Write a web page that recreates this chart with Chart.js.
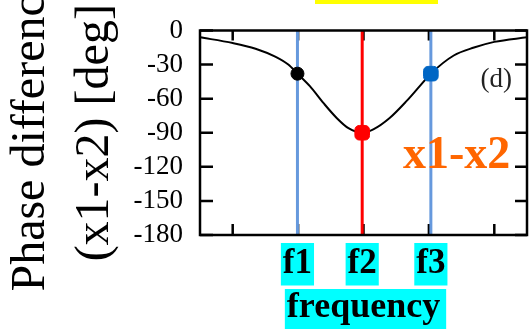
<html>
<head>
<script src="https://cdn.jsdelivr.net/npm/chart.js"></script>
<style>
    body { margin: 0; background: #fff; }
    #wrap { width: 530px; height: 329px; }
</style>
</head>
<body>
<div id="wrap"><canvas id="phaseChart"></canvas></div>
<script>
    // phase difference curve
    const FREQ_X = [0, 0.5, 0.85, 1.15, 1.35, 1.49, 1.68, 1.89, 2.09, 2.27, 2.48, 2.65, 2.9, 3.16, 3.36, 3.53, 3.88, 4.19, 4.5, 5]
    const PHASE_DEG = [-6, -11, -16, -23, -30, -38, -49, -64, -77, -86, -90, -87, -77, -62, -49, -38, -22, -15, -10, -6]

    // marked frequencies
    const F_LABELS = ['f1', 'f2', 'f3']
    const F_VALUES = [1.49, 2.48, 3.53]
    const F_PHASE = [-38, -90, -38]

    const X_TICK_MARKS = [0.5, 1.5, 2.5, 3.5, 4.5]
    const Y_MIN = -180
    const Y_MAX = 0
    const Y_STEP = 30

    const SERIF = "'Liberation Serif', 'Times New Roman', serif"
    const BLUE_LINE = '#6699dd'

    function vline(x, color) {
        return {
            type: 'line',
            data: [{ x, y: Y_MAX }, { x, y: Y_MIN }],
            borderColor: color,
            borderWidth: 3,
            pointRadius: 0,
            order: 3,
        }
    }

    function marker(idx, style, color, radius) {
        return {
            type: 'scatter',
            data: [{ x: F_VALUES[idx], y: F_PHASE[idx] }],
            pointStyle: style,
            pointRadius: radius,
            backgroundColor: color,
            borderColor: color,
            borderWidth: 1,
            order: 0,
        }
    }

    const decor = {
        id: 'decor',
        beforeDraw(chart) {
            const { ctx, scales: { x } } = chart
            ctx.save()
            // bottom of the cropped panel title highlight
            ctx.fillStyle = '#ffff00'
            ctx.fillRect(315, 0, 123, 4)
            // cyan box behind the x title
            ctx.font = `bold 36px ${SERIF}`
            const w = ctx.measureText(x.options.title.text).width + 8
            const cx = (x.left + x.right) / 2 + 2
            ctx.fillStyle = '#00ffff'
            ctx.fillRect(cx - w / 2, 289, w, 45)
            ctx.restore()
        },
        beforeDatasetsDraw(chart) {
            const { ctx, chartArea: a, scales: { x, y } } = chart
            ctx.save()
            ctx.strokeStyle = '#000'
            ctx.lineWidth = 2.5
            ctx.beginPath()
            y.ticks.forEach((t) => {
                const py = y.getPixelForValue(t.value)
                ctx.moveTo(a.left, py); ctx.lineTo(a.left + 13, py)
                ctx.moveTo(a.right, py); ctx.lineTo(a.right - 12, py)
            })
            X_TICK_MARKS.forEach((v) => {
                const px = x.getPixelForValue(v)
                ctx.moveTo(px, a.top); ctx.lineTo(px, a.top + 10)
                ctx.moveTo(px, a.bottom); ctx.lineTo(px, a.bottom - 11)
            })
            ctx.stroke()
            ctx.restore()
        },
        afterDatasetsDraw(chart) {
            const { ctx, chartArea: a } = chart
            ctx.save()
            ctx.strokeStyle = '#000'
            ctx.lineWidth = 2.5
            ctx.strokeRect(a.left, a.top, a.right - a.left, a.bottom - a.top)

            ctx.textAlign = 'right'
            ctx.textBaseline = 'alphabetic'
            ctx.fillStyle = '#222'
            ctx.font = `27px ${SERIF}`
            ctx.fillText('(d)', a.right - 15, a.top + 56)

            ctx.textAlign = 'left'
            ctx.fillStyle = '#ff6600'
            ctx.font = `bold 46px ${SERIF}`
            ctx.fillText('x1-x2', a.left + 203, a.top + 137)
            ctx.restore()
        },
    }

    new Chart(document.getElementById('phaseChart'), {
        type: 'line',
        data: {
            datasets: [
                marker(0, 'circle', '#000', 6.5),
                marker(1, 'rectRounded', '#ff0000', 8.5),
                marker(2, 'rectRounded', '#0066c4', 8.5),
                {
                    type: 'line',
                    data: FREQ_X.map((fx, i) => ({ x: fx, y: PHASE_DEG[i] })),
                    borderColor: '#000',
                    borderWidth: 2,
                    pointRadius: 0,
                    cubicInterpolationMode: 'monotone',
                    order: 1,
                },
                vline(F_VALUES[0], BLUE_LINE),
                vline(F_VALUES[1], '#ff0000'),
                vline(F_VALUES[2], BLUE_LINE),
            ],
        },
        options: {
            responsive: true,
            maintainAspectRatio: false,
            animation: false,
            layout: { autoPadding: false, padding: { top: 28, right: 3, left: 0, bottom: 0 } },
            plugins: { legend: false, tooltip: { enabled: false } },
            scales: {
                x: {
                    type: 'linear',
                    min: 0,
                    max: 5,
                    grid: { display: false, drawTicks: false },
                    border: { display: false },
                    afterBuildTicks: (scale) => {
                        scale.ticks = F_VALUES.map((v) => ({ value: v }))
                    },
                    afterFit: (scale) => { scale.height = 94 },
                    ticks: {
                        callback: (v, i) => F_LABELS[i],
                        autoSkip: false,
                        maxRotation: 0,
                        padding: 10,
                        color: '#000',
                        font: { family: SERIF, size: 35, weight: 'bold', lineHeight: 1.1 },
                        showLabelBackdrop: true,
                        backdropColor: '#00ffff',
                        backdropPadding: { top: 2, bottom: 2, left: 2, right: 2 },
                    },
                    title: {
                        display: true,
                        text: 'frequency',
                        color: '#000',
                        padding: 0,
                        font: { family: SERIF, size: 36, weight: 'bold', lineHeight: 1.2 },
                    },
                },
                y: {
                    min: Y_MIN,
                    max: Y_MAX,
                    grid: { display: false, drawTicks: false },
                    border: { display: false },
                    afterFit: (scale) => { scale.width = 200 },
                    ticks: {
                        stepSize: Y_STEP,
                        autoSkip: false,
                        padding: 17,
                        color: '#000',
                        font: { family: SERIF, size: 27, lineHeight: 1 },
                    },
                    title: {
                        display: true,
                        text: ['Phase difference', '(x1-x2) [deg]'],
                        color: '#000',
                        padding: 0,
                        font: { family: SERIF, size: 48, lineHeight: 1.32 },
                    },
                },
            },
        },
        plugins: [decor],
    })
</script>
</body>
</html>
